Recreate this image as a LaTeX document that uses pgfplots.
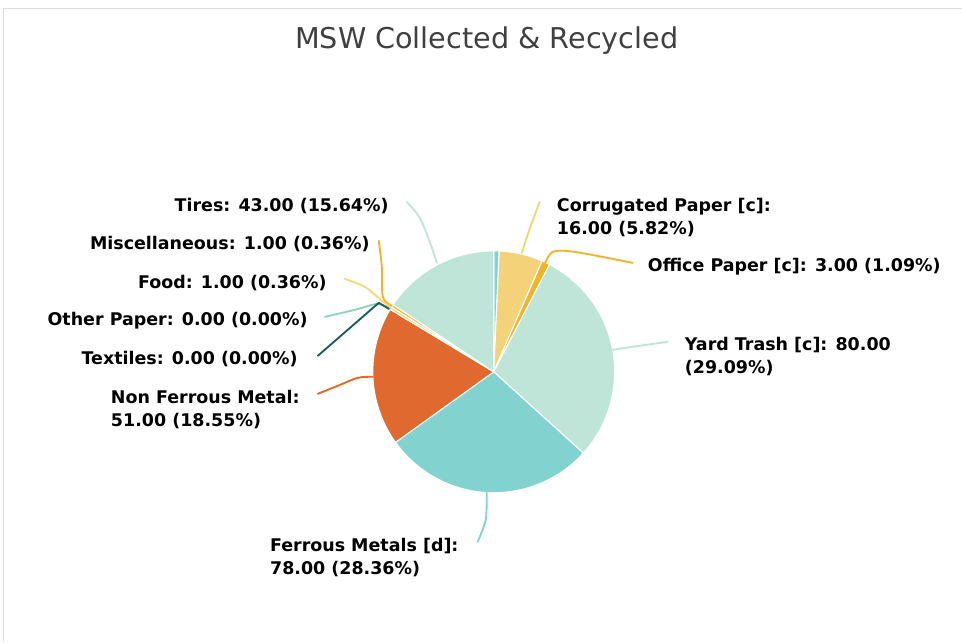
\documentclass[border=0pt]{standalone}
\usepackage{fontspec}
\setmainfont{DejaVu Sans}
\usepackage{pgfplots}
\pgfplotsset{compat=1.18}
\definecolor{cTealM}{HTML}{82D2CF}
\definecolor{cCorr}{HTML}{F3D27A}
\definecolor{cOffice}{HTML}{F0B429}
\definecolor{cYard}{HTML}{BFE4D8}
\definecolor{cFerr}{HTML}{82D2CF}
\definecolor{cNonF}{HTML}{E0692F}
\definecolor{cText}{HTML}{1D5B5E}
\definecolor{cOther}{HTML}{8FD3BF}
\definecolor{cFood}{HTML}{F5D77E}
\definecolor{cMisc}{HTML}{F0B429}
\definecolor{cTires}{HTML}{BFE4D8}
\definecolor{cFrame}{HTML}{DDDDDD}
\definecolor{cTitle}{HTML}{404040}
\newcommand\total{275}
% #1 cumulative value before the slice, #2 value, #3 colour
\newcommand{\pieslice}[3]{%
  \pgfmathsetmacro\angA{90-(#1)/\total*360}%
  \pgfmathsetmacro\angB{90-(#1+#2)/\total*360}%
  \edef\doslice{\noexpand\addplot[draw=white, line width=0.8pt, fill=#3, domain=\angB:\angA, samples=90]
    ({494+121*cos(x)},{270+121*sin(x)}) -- (axis cs:494,270) -- cycle;}%
  \doslice}
\begin{document}
\begin{tikzpicture}
\begin{axis}[
  scale only axis, width=721.5pt, height=481.5pt,
  xmin=0, xmax=962, ymin=0, ymax=642,
  hide axis, clip=false,
  every axis plot/.append style={line join=round, line cap=round},
]
\path (axis cs:0,0) rectangle (axis cs:962,642);
\draw[cFrame, line width=0.75pt] (axis cs:4,0) -- (axis cs:4,633) -- (axis cs:962,633);
% slices: values 2, 16, 3, 80, 78, 51, 0, 0, 1, 1, 43 (total 275), clockwise from 90 deg
\pieslice{0}{2}{cTealM}
\pieslice{2}{16}{cCorr}
\pieslice{18}{3}{cOffice}
\pieslice{21}{80}{cYard}
\pieslice{101}{78}{cFerr}
\pieslice{179}{51}{cNonF}
\pieslice{230}{1}{cFood}
\pieslice{231}{1}{cMisc}
\pieslice{232}{43}{cTires}
% leader lines
\addplot[cTires, line width=1.4pt, smooth] coordinates {(437,379) (430,400) (420,424) (407,440)};
\addplot[cCorr, line width=1.4pt, smooth] coordinates {(522,389) (530,413) (540,440)};
\addplot[cOffice, line width=1.4pt, smooth] coordinates {(545,378) (553,390) (575,390) (633,379)};
\addplot[cYard, line width=1.4pt, smooth] coordinates {(613,292) (640,296) (668,300)};
\addplot[cFerr, line width=1.4pt, smooth] coordinates {(487,149) (486,122) (478,100)};
\addplot[cNonF, line width=1.4pt, smooth] coordinates {(373,265) (358,264) (338,256) (318,248)};
\addplot[cMisc, line width=1.4pt, smooth] coordinates {(392,336) (383,345) (382,375) (379,401)};
\addplot[cFood, line width=1.4pt, smooth] coordinates {(391,334) (381,342) (365,355) (345,363)};
\addplot[cOther, line width=1.4pt, smooth] coordinates {(390,333) (378,338) (355,332) (325,325)};
\addplot[cText, line width=1.4pt] coordinates {(389,333) (379,339) (318,286)};
% labels
\begin{scope}[every node/.style={inner sep=0pt, font=\fontsize{13.1}{17.25}\selectfont\bfseries, text=black, align=left}]
\node[anchor=east] at (axis cs:389,436) {Tires: 43.00 (15.64\%)};
\node[anchor=east] at (axis cs:370,398) {Miscellaneous: 1.00 (0.36\%)};
\node[anchor=east] at (axis cs:327,359) {Food: 1.00 (0.36\%)};
\node[anchor=east] at (axis cs:308,321) {Other Paper: 0.00 (0.00\%)};
\node[anchor=east] at (axis cs:298,283) {Textiles: 0.00 (0.00\%)};
\node[anchor=east] at (axis cs:300,232.5) {Non Ferrous Metal:\\51.00 (18.55\%)};
\node[anchor=east] at (axis cs:459,84.5) {Ferrous Metals [d]:\\78.00 (28.36\%)};
\node[anchor=west] at (axis cs:557,424.5) {Corrugated Paper [c]:\\16.00 (5.82\%)};
\node[anchor=west] at (axis cs:648,375) {Office Paper [c]: 3.00 (1.09\%)};
\node[anchor=west] at (axis cs:685,285) {Yard Trash [c]: 80.00\\(29.09\%)};
\end{scope}
\node[inner sep=0pt, text=cTitle, font=\fontsize{21.5}{26}\selectfont] at (axis cs:487,601) {MSW Collected \& Recycled};
\end{axis}
\end{tikzpicture}
\end{document}
